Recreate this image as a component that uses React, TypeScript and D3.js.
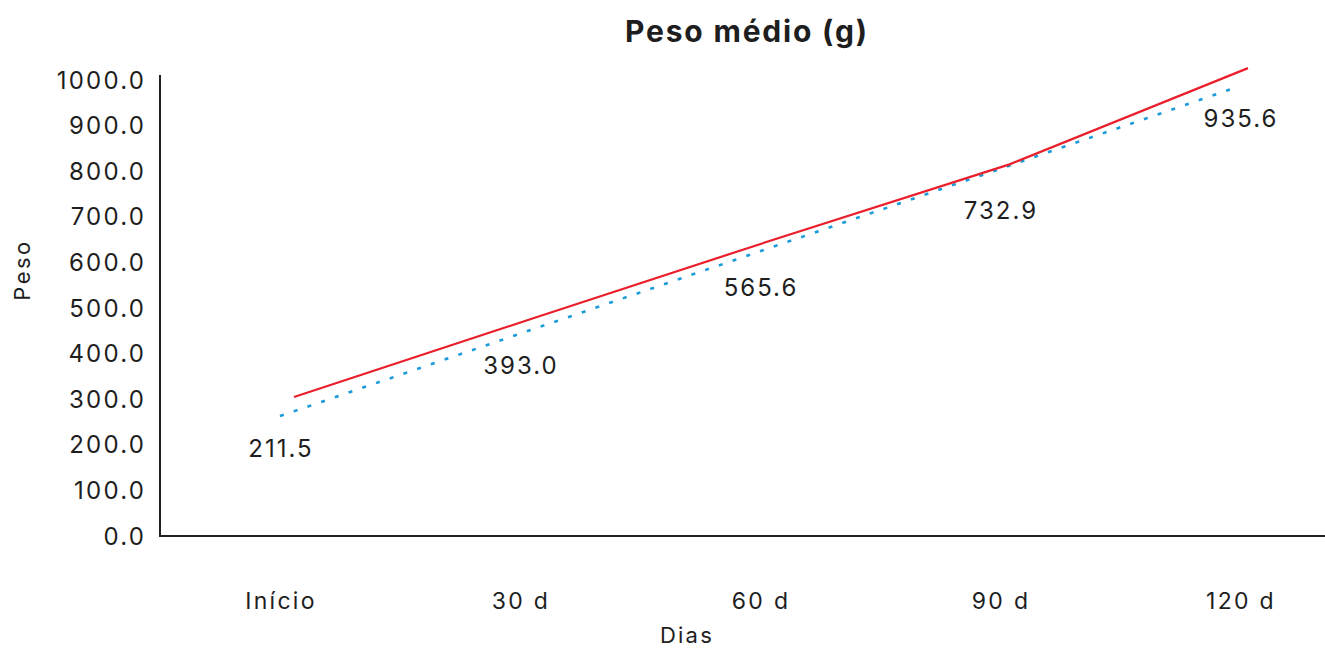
import React from "react";
import * as d3 from "d3";

const categories = ["Início", "30 d", "60 d", "90 d", "120 d"];
const redValues = [305, 477, 648, 815, 1026];
const blueValues = [263, 442, 621, 800, 980];
const labelValues = [211.5, 393.0, 565.6, 732.9, 935.6];
const yTicks = [0, 100, 200, 300, 400, 500, 600, 700, 800, 900, 1000];

const W = 1325;
const H = 648;
const FONT = "Inter, 'Noto Sans', sans-serif";

export default function App() {
  const y = d3.scaleLinear().domain([0, 1000]).range([536, 80]);
  const xCat = d3.scalePoint<string>().domain(categories).range([280, 1240]);
  const xBlue = d3.scaleLinear().domain([0, 4]).range([280, 1231]);
  const xRed = d3.scaleLinear().domain([0, 4]).range([294, 1248]);

  const redLine = d3
    .line<number>()
    .x((_, i) => xRed(i))
    .y((d) => y(d));
  const blueLine = d3
    .line<number>()
    .x((_, i) => xBlue(i))
    .y((d) => y(d));

  const fmt = d3.format(".1f");
  const ink = "#1e1e1e";

  return (
    <svg
      width={W}
      height={H}
      style={{ position: "absolute", left: 0, top: 0, background: "#fff" }}
      fontFamily={FONT}
    >
      <rect width={W} height={H} fill="#fff" />
      <text
        x={747}
        y={42}
        textAnchor="middle"
        fontSize={30}
        fontWeight={700}
        letterSpacing={1.8}
        fill={ink}
      >
        Peso médio (g)
      </text>

      {/* y axis ticks */}
      {yTicks.map((t) => (
        <text
          key={t}
          x={146}
          y={y(t)}
          dy="0.36em"
          textAnchor="end"
          fontSize={24}
          letterSpacing={2.2}
          fill={ink}
        >
          {fmt(t)}
        </text>
      ))}

      {/* axes */}
      <line x1={160} x2={160} y1={75} y2={537} stroke="#222" strokeWidth={2} />
      <line x1={159} x2={W} y1={536} y2={536} stroke="#222" strokeWidth={2} />

      {/* x categories */}
      {categories.map((c) => (
        <text
          key={c}
          x={xCat(c)! + 1}
          y={609}
          textAnchor="middle"
          fontSize={23}
          letterSpacing={2.3}
          fill={ink}
        >
          {c}
        </text>
      ))}

      {/* axis titles */}
      <text
        x={687}
        y={643}
        textAnchor="middle"
        fontSize={22}
        letterSpacing={2.2}
        fill={ink}
      >
        Dias
      </text>
      <text
        transform={`translate(30, 270) rotate(-90)`}
        textAnchor="middle"
        fontSize={22}
        letterSpacing={2.5}
        fill={ink}
      >
        Peso
      </text>

      {/* lines */}
      <path
        d={blueLine(blueValues) || ""}
        fill="none"
        stroke="#1b9bd8"
        strokeWidth={2.6}
        strokeDasharray="4 10.5"
      />
      <path
        d={redLine(redValues) || ""}
        fill="none"
        stroke="#ea1f2b"
        strokeWidth={2.2}
      />

      {/* data labels */}
      {labelValues.map((v, i) => (
        <text
          key={i}
          x={xCat(categories[i])! + 1}
          y={y(v) + 9}
          dy="0.36em"
          textAnchor="middle"
          fontSize={24}
          letterSpacing={2}
          fill={ink}
        >
          {fmt(v)}
        </text>
      ))}
    </svg>
  );
}
